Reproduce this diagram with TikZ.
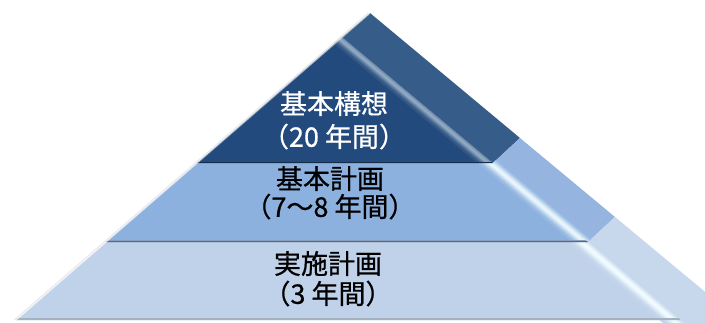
\documentclass[tikz,border=0pt]{standalone}
\usepackage{fontspec}
\newfontfamily\jp[BoldFont={Noto Sans CJK JP}, BoldFeatures={FakeBold=0.7}]{Noto Sans CJK JP}
\definecolor{topF}{HTML}{234A7C}
\definecolor{topS}{HTML}{365C8A}
\definecolor{midF}{HTML}{8DB1DE}
\definecolor{midS}{HTML}{95B5E0}
\definecolor{botF}{HTML}{C0D2E9}
\definecolor{botS}{HTML}{C7D8EC}
\definecolor{hl}{HTML}{F0FBFF}
\tikzset{
  lbl/.style={font=\jp\bfseries\fontsize{27}{30}\selectfont, inner sep=0pt, text height=0.83em, text depth=0.07em, anchor=center},
}
\begin{document}
\begin{tikzpicture}[x=1pt,y=-1pt]
\useasboundingbox (0,0) rectangle (705,322);
\clip (0,0) rectangle (705,322);
\coordinate (O) at (370,13);
\coordinate (T) at (342,37);
\coordinate (L1) at (197,163);
\coordinate (R1) at (493,163);
\coordinate (S1) at (520,138);
\coordinate (L2) at (106,242);
\coordinate (R2) at (588,242);
\coordinate (S2) at (615,217);
\coordinate (L3) at (16,320);
\coordinate (R3) at (681,320);
\coordinate (S3) at (745,325);
\coordinate (R4) at (681,325);
% faces
\fill[topS] (O) -- (S1) -- (R1) -- (T) -- cycle;
\fill[topF] (T) -- (R1) -- (L1) -- cycle;
\fill[midS] (R1) -- (S1) -- (S2) -- (R2) -- cycle;
\fill[midF] (L1) -- (R1) -- (R2) -- (L2) -- cycle;
\fill[botS] (R2) -- (S2) -- (S3) -- (R4) -- cycle;
\fill[botF] (L2) -- (R2) -- (R3) -- (L3) -- cycle;
% highlights along the front-right edge
\begin{scope}
\clip (T) -- (R1) -- (L1) -- cycle;
\foreach \d/\p in {-2/10,0/25,2/40,4/50,6/55,8/45,10/30,12/18,14/8}
  \draw[line width=2.2pt, hl!\p!topF] ([xshift=-\d pt]T) -- ([xshift=-\d pt]R3);
\end{scope}
\begin{scope}
\clip (L1) -- (R1) -- (S1) -- (S2) -- (R2) -- (L2) -- cycle;
\foreach \d/\p in {-6/10,-4/25,-2/45,0/70,2/85,4/95,6/85,8/65,10/45,12/25,14/10}
  \draw[line width=2.2pt, hl!\p!midF] ([xshift=-\d pt]T) -- ([xshift=-\d pt]R3);
\end{scope}
\begin{scope}
\clip (L2) -- (R2) -- (S2) -- (S3) -- (R4) -- (L3) -- cycle;
\foreach \d/\p in {-6/15,-4/35,-2/60,0/85,2/100,4/100,6/85,8/60,10/40,12/20,14/8}
  \draw[line width=2.2pt, hl!\p!botF] ([xshift=-\d pt]T) -- ([xshift=-\d pt]R4);
\end{scope}
% bottom shadows of tiers
\begin{scope}
\clip (T) -- (R1) -- (L1) -- cycle;
\draw[line width=3pt, topF!60!black] (L1) -- (R1);
\end{scope}
\begin{scope}
\clip (L1) -- (R1) -- (R2) -- (L2) -- cycle;
\draw[line width=5pt, midF!65!gray] (L2) -- (R2);
\draw[line width=2pt, midF!55!black!70!gray] (L2) -- (R2);
\end{scope}
\begin{scope}
\clip (L2) -- (R2) -- (R3) -- (L3) -- cycle;
\draw[line width=5pt, botF!60!gray] (L3) -- (R3);
\end{scope}
% left bevel
\draw[line width=1.5pt, white, opacity=0.55] (O) -- (L3);
\draw[line width=1pt, black!15, opacity=0.6] ([xshift=-1.8pt]O) -- ([xshift=-1.8pt]L3);
% labels
\node[lbl, text=white] (t1) at (334,110) {基本構想};
\node[lbl, text=white] (t2) at (334,143) {（20 年間）};
\node[lbl] (m1) at (330,185) {基本計画};
\node[lbl] (m2) at (330,213) {（7～8 年間）};
\node[lbl] (b1) at (328,270) {実施計画};
\node[lbl] (b2) at (328,300) {（3 年間）};
\end{tikzpicture}
\end{document}
